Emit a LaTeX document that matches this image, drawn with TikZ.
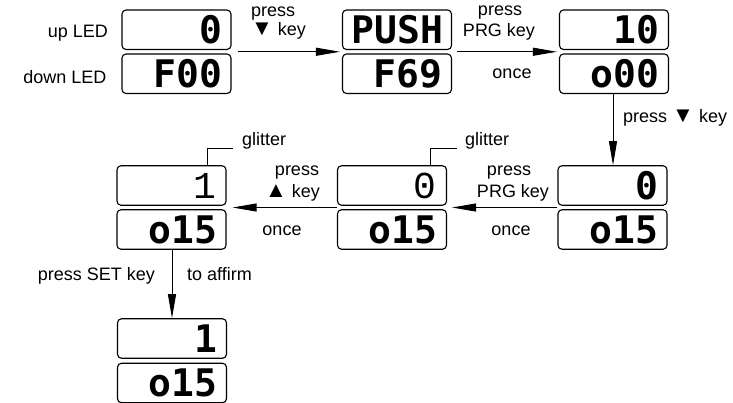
\documentclass[tikz,border=0pt]{standalone}
\usepackage{fontspec}
\setmainfont{Liberation Sans}
\newfontfamily\segfont{DejaVu Sans Mono}
\newfontfamily\thinseg{Liberation Mono}
\usetikzlibrary{arrows.meta,calc}
\newcommand\bigtri[1]{{\fontsize{22}{20}\selectfont #1}}
\begin{document}
\begin{tikzpicture}[x=1pt,y=-1pt,
  disp/.style={draw, line width=1.1pt, rounded corners=4pt, minimum height=39.5pt,
    inner xsep=9pt, inner ysep=0pt, text width=91pt, align=right,
    font=\fontsize{38}{38}\segfont\bfseries},
  dimdisp/.style={disp, inner xsep=10pt, text width=89pt, font=\fontsize{38}{38}\thinseg\mdseries},
  lab/.style={inner sep=0pt, font=\fontsize{18}{20}\selectfont},
  arr/.style={line width=0.9pt, -{Triangle[length=24pt,width=8pt]}},
  lead/.style={line width=0.9pt}]
\useasboundingbox (0,0) rectangle (733,402);
% displays
\node[disp] (A1) at (176.5,29.75) {0};
\node[disp] (A2) at (176.5,73.75) {F00};
\node[disp] (B1) at (397,29.75) {PUSH};
\node[disp] (B2) at (397,73.75) {F69};
\node[disp] (C1) at (614,29.75) {10};
\node[disp] (C2) at (614,73.75) {o00};
\node[disp] (D1) at (612.5,185.5) {0};
\node[disp] (D2) at (612.5,229.5) {o15};
\node[dimdisp] (E1) at (392,185.5) {0};
\node[disp] (E2) at (392,229.5) {o15};
\node[dimdisp] (F1) at (171.5,185.5) {1};
\node[disp] (F2) at (171.5,229.5) {o15};
\node[disp] (G1) at (172,338.5) {1};
\node[disp] (G2) at (172,383) {o15};
% side labels
\node[lab, anchor=base east] (up) at (108,37.5) {up LED};
\node[lab, anchor=base east] (down) at (106.5,83) {down LED};
% arrow 1
\draw[arr] ($(A1.south east)!0.5!(A2.north east)+(6,0)$) -- ($(B1.south west)!0.5!(B2.north west)+(-2,0)$);
\node[lab, anchor=base west] (t1a) at (251,16) {press};
\node[lab, anchor=base west] (t1b) at (251,35) {\bigtri{▼} key};
% arrow 2
\draw[arr] ($(B1.south east)!0.5!(B2.north east)+(5,0)$) -- ($(C1.south west)!0.5!(C2.north west)+(-2,0)$);
\node[lab, anchor=base] (t2a) at (500,15) {press};
\node[lab, anchor=base] (t2b) at (499,36) {PRG key};
\node[lab, anchor=base] (t2c) at (512,78) {once};
% arrow 3
\draw[arr] (C2.south -| 613,0) -- (D1.north -| 613,0);
\node[lab, anchor=base west] (t3) at (623,122) {press \bigtri{▼} key};
% arrow 4
\draw[arr] ($(D1.south west)!0.5!(D2.north west)$) -- ($(E1.south east)!0.5!(E2.north east)+(5,0)$);
\node[lab, anchor=base] (t4a) at (509,175) {press};
\node[lab, anchor=base] (t4b) at (513,197) {PRG key};
\node[lab, anchor=base] (t4c) at (511,235) {once};
% arrow 5
\draw[arr] ($(E1.south west)!0.5!(E2.north west)$) -- ($(F1.south east)!0.5!(F2.north east)+(6,0)$);
\node[lab, anchor=base] (t5a) at (297,175) {press};
\node[lab, anchor=base east] (t5b) at (320,197) {\bigtri{▲} key};
\node[lab, anchor=base] (t5c) at (282,235) {once};
% arrow 6
\draw[arr] (F2.south -| 172,0) -- (G1.north -| 172,0);
\node[lab, anchor=base east] (t6a) at (155,280) {press SET key};
\node[lab, anchor=base west] (t6b) at (187,280) {to affirm};
% glitter leaders
\node[lab, anchor=base west] (g1) at (465,145) {glitter};
\draw[lead] ([xshift=38pt]E1.north) |- ([xshift=-8pt,yshift=-3pt]g1.base west);
\node[lab, anchor=base west] (g2) at (242,145) {glitter};
\draw[lead] ([xshift=35.5pt]F1.north) |- ([xshift=-9pt,yshift=-3pt]g2.base west);
\end{tikzpicture}
\end{document}
